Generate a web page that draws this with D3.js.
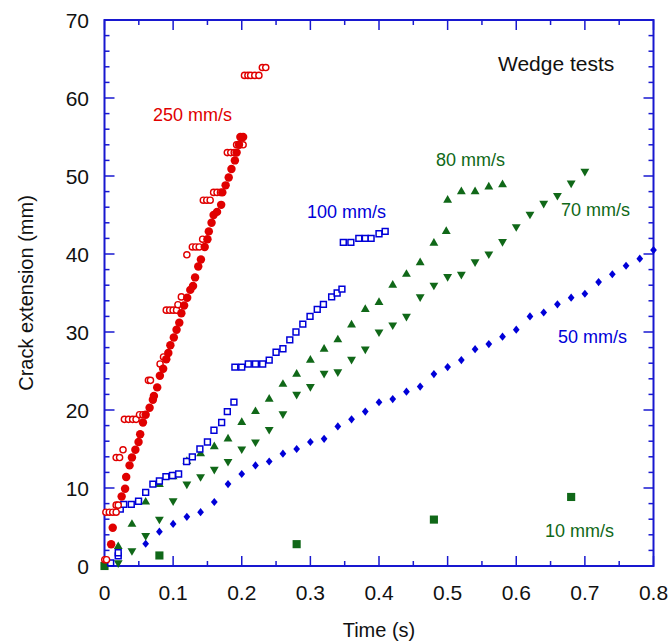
<!DOCTYPE html>
<html>
<head>
<meta charset="utf-8">
<script src="https://cdn.jsdelivr.net/npm/d3@7"></script>
<style>
  html, body { margin: 0; padding: 0; background: #fff; }
  svg { display: block; font-family: "Liberation Sans", Arial, Helvetica, sans-serif; }
</style>
</head>
<body>
<svg id="chart" width="670" height="642"></svg>
<script>
// Crack extension (mm) vs time (s) for wedge tests at several opening speeds.

// 250 mm/s, first run (filled circles)
const v250a = [
  [0.0097,2.8],[0.012,4.9],[0.025,8.9],[0.030,9.9],[0.0316,11.4],[0.0365,12.9],[0.040,13.9],
  [0.045,14.9],[0.0496,15.9],[0.052,16.9],[0.056,18.4],[0.060,19.4],[0.0657,20.3],[0.0705,21.3],
  [0.072,21.8],[0.0768,22.9],[0.0807,24.4],[0.0855,25.3],[0.090,26.5],[0.093,27.3],[0.096,28.3],
  [0.101,29.3],[0.105,30.3],[0.109,31.2],[0.112,32.4],[0.116,33.4],[0.1205,34.4],[0.125,35.4],
  [0.129,35.9],[0.132,37.0],[0.1366,38.4],[0.1405,39.3],[0.146,40.9],[0.150,41.9],[0.152,42.9],
  [0.156,44.0],[0.159,45.0],[0.164,45.4],[0.170,46.3],[0.1717,47.9],[0.1765,48.8],[0.181,49.8],
  [0.185,50.9],[0.190,52.0],[0.1925,53.0],[0.196,54.0],[0.198,55.0],[0.202,55.0]
];
// 250 mm/s, second run (open circles)
const v250b = [
  [0.0004,0.8],[0.003,0.8],
  [0.002,6.9],[0.007,6.9],[0.012,6.9],[0.017,6.9],[0.017,7.8],[0.020,7.8],
  [0.017,13.9],[0.022,13.9],[0.027,14.9],
  [0.029,18.8],[0.035,18.8],[0.041,18.8],[0.046,18.8],[0.051,19.4],[0.056,19.4],
  [0.064,23.8],[0.067,23.8],[0.081,25.9],[0.086,26.8],
  [0.090,32.8],[0.095,32.8],[0.100,32.8],[0.105,32.8],[0.107,33.5],[0.112,34.5],
  [0.120,39.9],[0.128,40.9],[0.133,40.9],[0.138,40.9],[0.143,41.9],
  [0.144,46.9],[0.149,46.9],[0.154,46.9],[0.159,47.9],[0.164,47.9],[0.169,47.9],
  [0.179,53.0],[0.184,53.0],[0.189,53.0],[0.1925,54.0],[0.197,54.0],[0.202,54.0],
  [0.204,62.9],[0.209,62.9],[0.213,62.9],[0.219,62.9],[0.225,62.9],[0.230,63.9],[0.235,63.9]
];
// 100 mm/s (open squares)
const v100 = [
  [0.009,0.4],[0.020,1.3],[0.020,1.7],[0.023,7.3],[0.028,7.9],[0.039,7.9],[0.0496,8.3],
  [0.060,9.45],[0.0705,10.5],[0.080,10.9],[0.0895,11.45],[0.099,11.6],[0.108,11.8],
  [0.1196,13.4],[0.128,14.0],[0.139,15.0],[0.150,15.9],[0.1595,17.4],[0.1707,18.4],
  [0.179,19.8],[0.1886,21.0],[0.190,25.5],[0.200,25.5],[0.2095,25.9],[0.220,25.9],
  [0.2305,25.9],[0.240,26.4],[0.250,27.4],[0.260,27.85],[0.270,29.0],[0.279,30.0],
  [0.289,31.0],[0.2995,32.0],[0.310,32.9],[0.319,33.55],[0.331,34.5],[0.339,35.0],
  [0.346,35.5],[0.348,41.5],[0.359,41.5],[0.3706,42.0],[0.380,42.0],[0.3885,42.0],
  [0.400,42.6],[0.409,42.9]
];
// 80 mm/s (up triangles)
const v80 = [
  [0.02,2.5],[0.04,5.35],[0.06,8.2],[0.08,10.45],[0.10,11.45],[0.12,13.4],[0.14,14.4],
  [0.16,15.3],[0.18,16.3],[0.20,18.4],[0.22,19.8],[0.24,21.4],[0.26,23.3],[0.28,24.6],
  [0.30,26.4],[0.32,27.8],[0.34,29.0],[0.36,30.9],[0.38,32.9],[0.40,33.8],[0.42,36.0],
  [0.44,37.4],[0.46,38.9],[0.48,41.4],[0.498,42.9],[0.500,46.9],[0.52,48.0],[0.54,48.0],
  [0.56,48.6],[0.58,48.9]
];
// 70 mm/s (down triangles)
const v70 = [
  [0.02,0.4],[0.04,1.96],[0.06,3.9],[0.08,6.0],[0.10,8.35],[0.12,10.5],[0.14,11.45],
  [0.16,12.4],[0.18,13.4],[0.20,15.0],[0.22,15.9],[0.24,17.5],[0.26,19.5],[0.28,22.0],
  [0.30,23.0],[0.32,24.7],[0.34,24.9],[0.36,26.5],[0.38,27.8],[0.40,30.0],[0.42,30.9],
  [0.44,32.0],[0.46,34.5],[0.48,36.0],[0.50,37.1],[0.52,37.4],[0.54,39.0],[0.56,40.0],
  [0.58,41.6],[0.60,43.5],[0.62,45.1],[0.64,46.5],[0.66,47.5],[0.68,49.1],[0.70,50.6]
];
// 50 mm/s (diamonds)
const v50 = [
  [0.06,2.85],[0.08,4.4],[0.10,5.4],[0.12,6.3],[0.14,6.9],[0.16,8.2],[0.18,10.5],
  [0.20,11.8],[0.22,12.9],[0.24,13.4],[0.26,14.4],[0.28,15.0],[0.30,15.9],[0.32,16.3],
  [0.34,17.9],[0.36,18.8],[0.38,19.8],[0.40,21.0],[0.42,21.4],[0.44,22.35],[0.46,23.0],
  [0.48,24.6],[0.50,25.5],[0.52,26.4],[0.54,27.8],[0.56,28.45],[0.58,29.4],[0.60,30.3],
  [0.62,32.0],[0.64,32.5],[0.66,33.55],[0.68,34.4],[0.70,34.9],[0.72,36.4],[0.74,37.4],
  [0.76,38.5],[0.78,39.4],[0.80,40.5]
];
// 10 mm/s (filled squares)
const v10 = [[0,0],[0.08,1.35],[0.28,2.8],[0.48,5.95],[0.68,8.85]];

const xTicks = [0, 0.1, 0.2, 0.3, 0.4, 0.5, 0.6, 0.7, 0.8];
const xTickLabels = ["0", "0.1", "0.2", "0.3", "0.4", "0.5", "0.6", "0.7", "0.8"];
const yTicks = [0, 10, 20, 30, 40, 50, 60, 70];
const yTickLabels = ["0", "10", "20", "30", "40", "50", "60", "70"];

const RED = "#e00000", BLUE = "#0000d8", GREEN = "#106818", AXIS = "#1818d0";

const svg = d3.select("#chart");
const plotL = 104.5, plotR = 653.5, plotT = 20, plotB = 566;
const x = d3.scaleLinear().domain([0, 0.8]).range([plotL, plotR]);
const y = d3.scaleLinear().domain([0, 70]).range([plotB, plotT]);

// Ticks point inward on all four sides; minor every 0.05 s and 2 mm
const minorX = d3.range(0, 0.8001, 0.05).map(v => +v.toFixed(3));
const minorY = d3.range(0, 70.001, 2);
const tickLen = isMajor => (isMajor ? 10 : 5);
const isMajorX = v => Math.abs(v * 10 - Math.round(v * 10)) < 1e-6;
const isMajorY = v => v % 10 === 0;

const tickG = svg.append("g").attr("stroke", AXIS).attr("stroke-width", 1.5);
minorX.forEach(v => {
  const L = tickLen(isMajorX(v));
  tickG.append("line").attr("x1", x(v)).attr("x2", x(v)).attr("y1", plotB).attr("y2", plotB - L);
  tickG.append("line").attr("x1", x(v)).attr("x2", x(v)).attr("y1", plotT).attr("y2", plotT + L);
});
minorY.forEach(v => {
  const L = tickLen(isMajorY(v));
  tickG.append("line").attr("y1", y(v)).attr("y2", y(v)).attr("x1", plotL).attr("x2", plotL + L);
  tickG.append("line").attr("y1", y(v)).attr("y2", y(v)).attr("x1", plotR).attr("x2", plotR - L);
});
svg.append("rect").attr("x", plotL).attr("y", plotT)
  .attr("width", plotR - plotL).attr("height", plotB - plotT)
  .attr("fill", "none").attr("stroke", AXIS).attr("stroke-width", 2);

// Tick labels
svg.append("g").selectAll("text").data(xTicks).join("text")
  .attr("x", d => x(d)).attr("y", 600)
  .attr("text-anchor", "middle").attr("font-size", 21).attr("fill", "#111")
  .text((d, i) => xTickLabels[i]);
svg.append("g").selectAll("text").data(yTicks).join("text")
  .attr("x", 89).attr("y", d => y(d) + 7.5)
  .attr("text-anchor", "end").attr("font-size", 21).attr("fill", "#111")
  .text((d, i) => yTickLabels[i]);

// Axis titles
svg.append("text").attr("x", (plotL + plotR) / 2).attr("y", 637)
  .attr("text-anchor", "middle").attr("font-size", 20).attr("fill", "#111").text("Time (s)");
svg.append("text").attr("transform", `translate(33,${(plotT + plotB) / 2}) rotate(-90)`)
  .attr("text-anchor", "middle").attr("font-size", 20).attr("fill", "#111").text("Crack extension (mm)");

// Markers
const plot = svg.append("g");
const diamond = {
  draw(ctx, size) {
    const r = Math.sqrt(size) / 2;
    ctx.moveTo(0, -r * 1.15); ctx.lineTo(r * 0.95, 0);
    ctx.lineTo(0, r * 1.15); ctx.lineTo(-r * 0.95, 0); ctx.closePath();
  }
};
function drawSeries(data, type, size, opts) {
  plot.append("g").selectAll("path").data(data).join("path")
    .attr("d", d3.symbol().type(type).size(size))
    .attr("transform", d => `translate(${x(d[0])},${y(d[1])})` + (opts.rotate ? " rotate(180)" : ""))
    .attr("fill", opts.fill || "none")
    .attr("stroke", opts.stroke || "none")
    .attr("stroke-width", opts.sw || 0);
}
drawSeries(v10, d3.symbolSquare, 66, { fill: GREEN });
drawSeries(v50, diamond, 50, { fill: BLUE });
drawSeries(v70, d3.symbolTriangle, 34, { fill: GREEN, rotate: true });
drawSeries(v80, d3.symbolTriangle, 34, { fill: GREEN });
drawSeries(v100, d3.symbolSquare, 34, { fill: "#fff", stroke: BLUE, sw: 1.5 });
drawSeries(v250b, d3.symbolCircle, 30, { fill: "#fff", stroke: RED, sw: 1.4 });
drawSeries(v250a, d3.symbolCircle, 56, { fill: RED });

// Series labels
const labels = [
  { t: "250 mm/s", x: 153, y: 121, c: RED, s: 18 },
  { t: "100 mm/s", x: 307, y: 218, c: BLUE, s: 18 },
  { t: "80 mm/s", x: 436, y: 166, c: GREEN, s: 18 },
  { t: "70 mm/s", x: 561, y: 216, c: GREEN, s: 18 },
  { t: "50 mm/s", x: 558, y: 343, c: BLUE, s: 18 },
  { t: "10 mm/s", x: 545, y: 537, c: GREEN, s: 18 },
  { t: "Wedge tests", x: 498, y: 71, c: "#111", s: 21 }
];
svg.append("g").selectAll("text").data(labels).join("text")
  .attr("x", d => d.x).attr("y", d => d.y)
  .attr("font-size", d => d.s).attr("fill", d => d.c).text(d => d.t);
</script>
</body>
</html>
